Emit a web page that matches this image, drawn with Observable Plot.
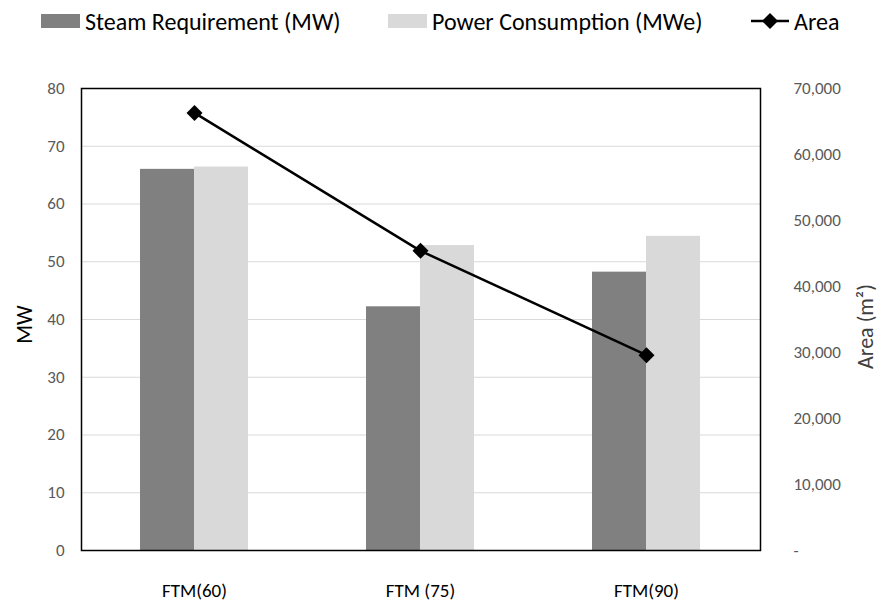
<!DOCTYPE html>
<html>
<head>
<meta charset="utf-8">
<script src="https://cdn.jsdelivr.net/npm/d3@7"></script>
<script src="https://cdn.jsdelivr.net/npm/@observablehq/plot@0.6"></script>
<style>
  html, body { margin: 0; padding: 0; background: #fff; }
  #wrap { position: relative; width: 880px; height: 608px; font-family: Calibri, Carlito, Lato, sans-serif; }
  #legend { position: absolute; top: 4px; left: 0; width: 880px; height: 34px; font-size: 24px; color: #000; }
  .item { position: absolute; top: 0; display: flex; align-items: center; height: 34px; white-space: nowrap; }
  .sw { width: 39px; height: 14px; margin-right: 5px; }
</style>
</head>
<body>
<div id="wrap">
  <div id="legend">
    <div class="item" style="left:41px"><div class="sw" style="background:#808080"></div>Steam Requirement (MW)</div>
    <div class="item" style="left:388px"><div class="sw" style="background:#d9d9d9"></div>Power Consumption (MWe)</div>
    <div class="item" style="left:751px"><svg width="38" height="20" style="margin-right:5px"><line x1="0" y1="10" x2="38" y2="10" stroke="#000" stroke-width="2.5"/><path d="M19,2 L27,10 L19,18 L11,10 Z" fill="#000"/></svg>Area</div>
  </div>
  <div id="chart"></div>
</div>
<script>
const categories = ["FTM(60)", "FTM (75)", "FTM(90)"];
const steamMW = [66.0, 42.2, 48.2];
const powerMWe = [66.4, 52.8, 54.4];
const areaM2 = [66300, 45400, 29600];
const mwTicks = [0, 10, 20, 30, 40, 50, 60, 70, 80];
const areaTicks = [0, 10000, 20000, 30000, 40000, 50000, 60000, 70000];
const mwMax = 80, areaMax = 70000;

const rows = categories.map((c, i) => ({cat: c, steam: steamMW[i], power: powerMWe[i], area: areaM2[i], areaScaled: areaM2[i] * mwMax / areaMax}));
const fmtArea = v => v === 0 ? "-" : d3.format(",")(v);

const chart = Plot.plot({
  width: 880,
  height: 608,
  marginLeft: 81,
  marginRight: 120,
  marginTop: 88,
  marginBottom: 58,
  style: {fontFamily: "Calibri, Carlito, Lato, sans-serif", fontSize: "17px", color: "#595959", background: "#fff"},
  x: {domain: categories, paddingInner: 0.522, paddingOuter: 0.261, label: null},
  y: {domain: [0, mwMax], label: null},
  marks: [
    Plot.gridY(mwTicks, {stroke: "#d9d9d9", strokeOpacity: 1, strokeWidth: 1.2}),
    Plot.barY(rows, {x: "cat", y: "steam", fill: "#808080", insetRight: 54}),
    Plot.barY(rows, {x: "cat", y: "power", fill: "#d9d9d9", insetLeft: 54}),
    Plot.line(rows, {x: "cat", y: "areaScaled", stroke: "#000", strokeWidth: 2.5}),
    Plot.dot(rows, {x: "cat", y: "areaScaled", symbol: "diamond2", r: 7.2, fill: "#000", stroke: "none"}),
    Plot.frame({stroke: "#000", strokeWidth: 1.5}),
    Plot.axisY(mwTicks, {anchor: "left", tickSize: 0, tickPadding: 17, label: null, fill: "#595959", fontSize: 17}),
    Plot.axisY(areaTicks.map(v => v * mwMax / areaMax), {anchor: "right", tickSize: 0, tickPadding: 33, label: null, tickFormat: v => fmtArea(Math.round(v * areaMax / mwMax)), fill: "#595959", fontSize: 17}),
    Plot.axisX({tickSize: 0, tickPadding: 33, label: null, fill: "#000", fontSize: 19}),
    Plot.text(["MW"], {frameAnchor: "left", textAnchor: "middle", dx: -57, dy: 5, rotate: -90, fontSize: 22, fill: "#000"}),
    Plot.text([["Area (m", "²", ")"].join("")], {frameAnchor: "right", textAnchor: "middle", dx: 105, dy: 7, rotate: -90, fontSize: 22, fill: "#404040"})
  ]
});
document.getElementById("chart").appendChild(chart);
</script>
</body>
</html>
